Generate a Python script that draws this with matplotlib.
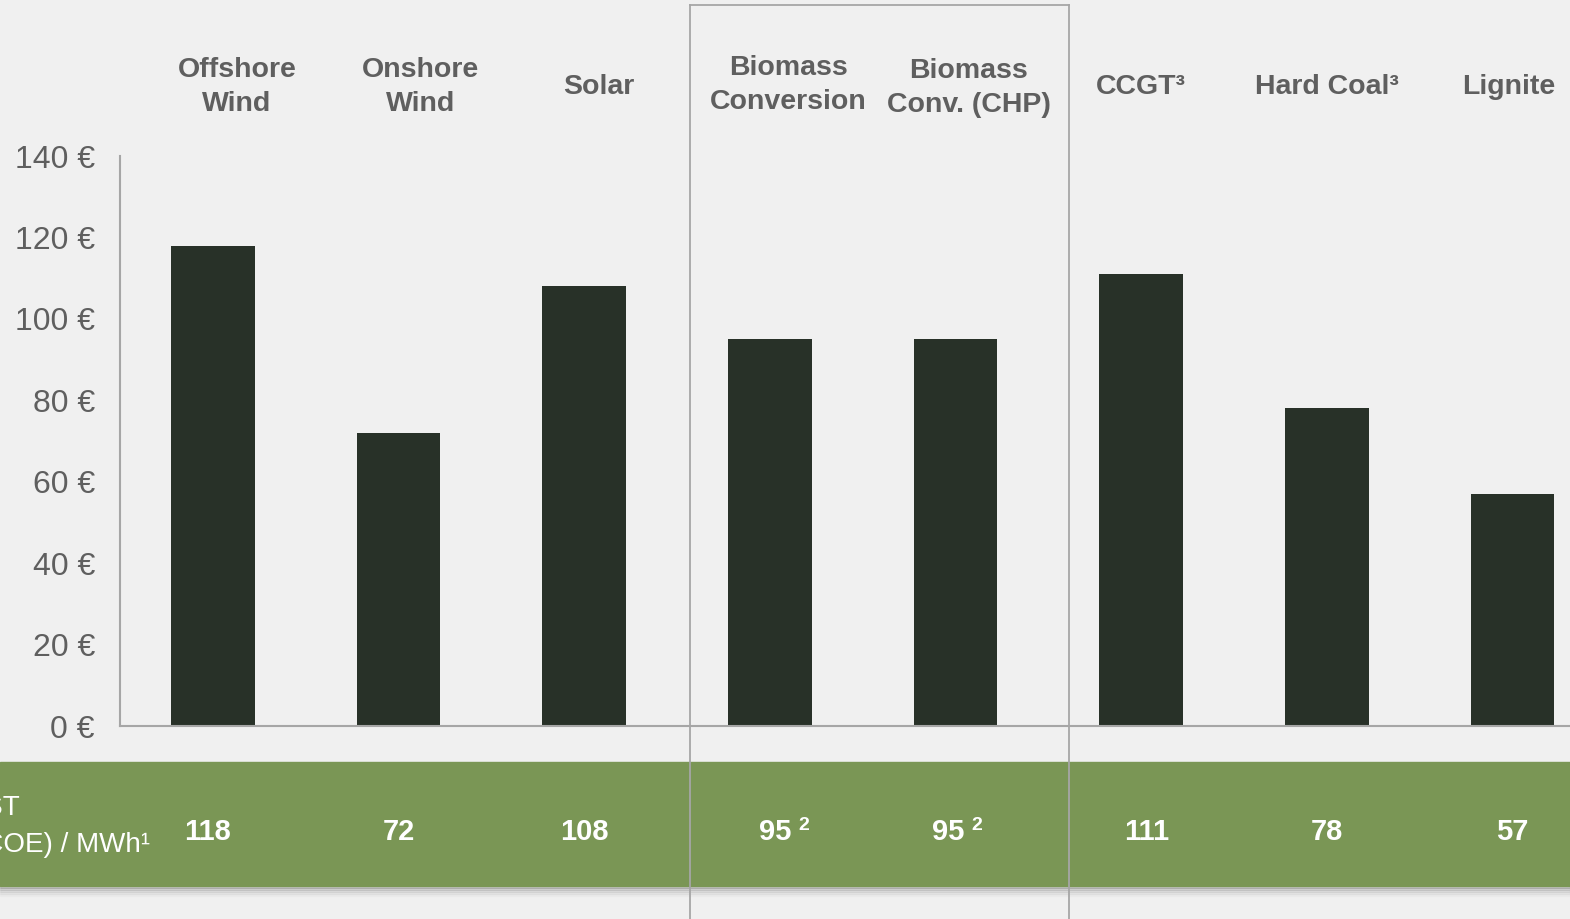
import matplotlib
matplotlib.use("Agg")
import matplotlib.pyplot as plt
from matplotlib.patches import Rectangle
from matplotlib.lines import Line2D
from matplotlib.text import Annotation

# ---- data ----
categories = ["Offshore\nWind", "Onshore\nWind", "Solar", "Biomass\nConversion",
              "Biomass\nConv. (CHP)", "CCGT³", "Hard Coal³", "Lignite"]
lcoe = [118, 72, 108, 95, 95, 111, 78, 57]
band_values = ["118", "72", "108", "95", "95", "111", "78", "57"]
band_notes = ["", "", "", "2", "2", "", "", ""]
yticks = [0, 20, 40, 60, 80, 100, 120, 140]
ytick_labels = [f"{v} €" for v in yticks]
row_title = ["LEVELISED COST", "OF ELECTRICITY (LCOE) / MWh¹"]

# ---- layout/style ----
W, H = 1570, 919
BG = "#f0f0f0"
BAR = "#283128"
GREEN = "#7a9655"
GREY_TXT = "#5f5f5f"
LINE = "#a6a6a6"
label_dx = [0.13, 0.12, 0.08, 0.10, 0.07, 0.0, 0.0, -0.02]
label_dy = [0, 0, 0, 0.5, -0.4, 0, 0, 0]
band_dx = [-0.03, 0.0, 0.0, 0.03, -0.04, 0.03, 0.0, 0.0]

plt.rcParams['font.family'] = ['Liberation Sans', 'DejaVu Sans']
fig = plt.figure(figsize=(W / 100, H / 100), dpi=100, facecolor=BG)

def fx(px):
    return px / W

def fy(py):
    return 1 - py / H

ax = fig.add_axes([fx(120), fy(726), 1 - fx(120), fy(156) - fy(726)])
ax.set_facecolor(BG)
x = list(range(len(lcoe)))
ax.bar(x, lcoe, width=0.45, color=BAR, zorder=3)
ax.set_xlim(-0.5, 7.31)
ax.set_ylim(0, 140)
ax.set_yticks(yticks)
ax.set_yticklabels(ytick_labels, fontsize=23, color=GREY_TXT)
ax.tick_params(axis='y', length=0, pad=18)
ax.set_xticks([])
for s in ["top", "right"]:
    ax.spines[s].set_visible(False)
for s in ["left", "bottom"]:
    ax.spines[s].set_color(LINE)
    ax.spines[s].set_linewidth(1.5)
ax.spines["bottom"].set_zorder(4)

# category labels at top
for i, lab in enumerate(categories):
    ax.text(i + label_dx[i], 157.0 + label_dy[i], lab, ha="center", va="center",
            fontsize=20.5, fontweight="bold", color=GREY_TXT, linespacing=1.4,
            clip_on=False)

# green band with shadow
for k, a in enumerate([0.12, 0.08, 0.05, 0.03, 0.015]):
    fig.patches.append(Rectangle((0, fy(886 + 2 * (k + 1))), 1, 2 / H,
                                 transform=fig.transFigure, color="black", alpha=a, zorder=0))
fig.patches.append(Rectangle((0, fy(886)), 1, (886 - 762) / H,
                             transform=fig.transFigure, color=GREEN, zorder=1))

# band values
for i, lab in enumerate(band_values):
    xf = ax.transData.transform((i + band_dx[i], 0))[0] / W
    t = fig.text(xf, fy(840), lab, ha="center", va="baseline", fontsize=21,
                 fontweight="bold", color="white", zorder=5)
    if band_notes[i]:
        note = Annotation(band_notes[i], xy=(1, 0.42), xycoords=t, xytext=(5, 0),
                          textcoords="offset points", ha="left", va="bottom",
                          fontsize=14, fontweight="bold", color="white",
                          annotation_clip=False, zorder=5)
        fig.add_artist(note)

# row title (cut off at left edge, as in the source)
fig.text(fx(20), fy(815), row_title[0], ha="right", va="baseline", fontsize=20,
         color="white", zorder=5)
fig.text(fx(150), fy(852), row_title[1], ha="right", va="baseline", fontsize=20,
         color="white", zorder=5)

# highlight box around biomass
for xs, ys in [((690, 1069), (5, 5)), ((690, 690), (5, 919)), ((1069, 1069), (5, 919))]:
    fig.lines.append(Line2D([fx(xs[0]), fx(xs[1])], [fy(ys[0]), fy(ys[1])],
                            transform=fig.transFigure, color=LINE, lw=1.3, zorder=6))

fig.savefig("out.png", dpi=100, facecolor=BG)
